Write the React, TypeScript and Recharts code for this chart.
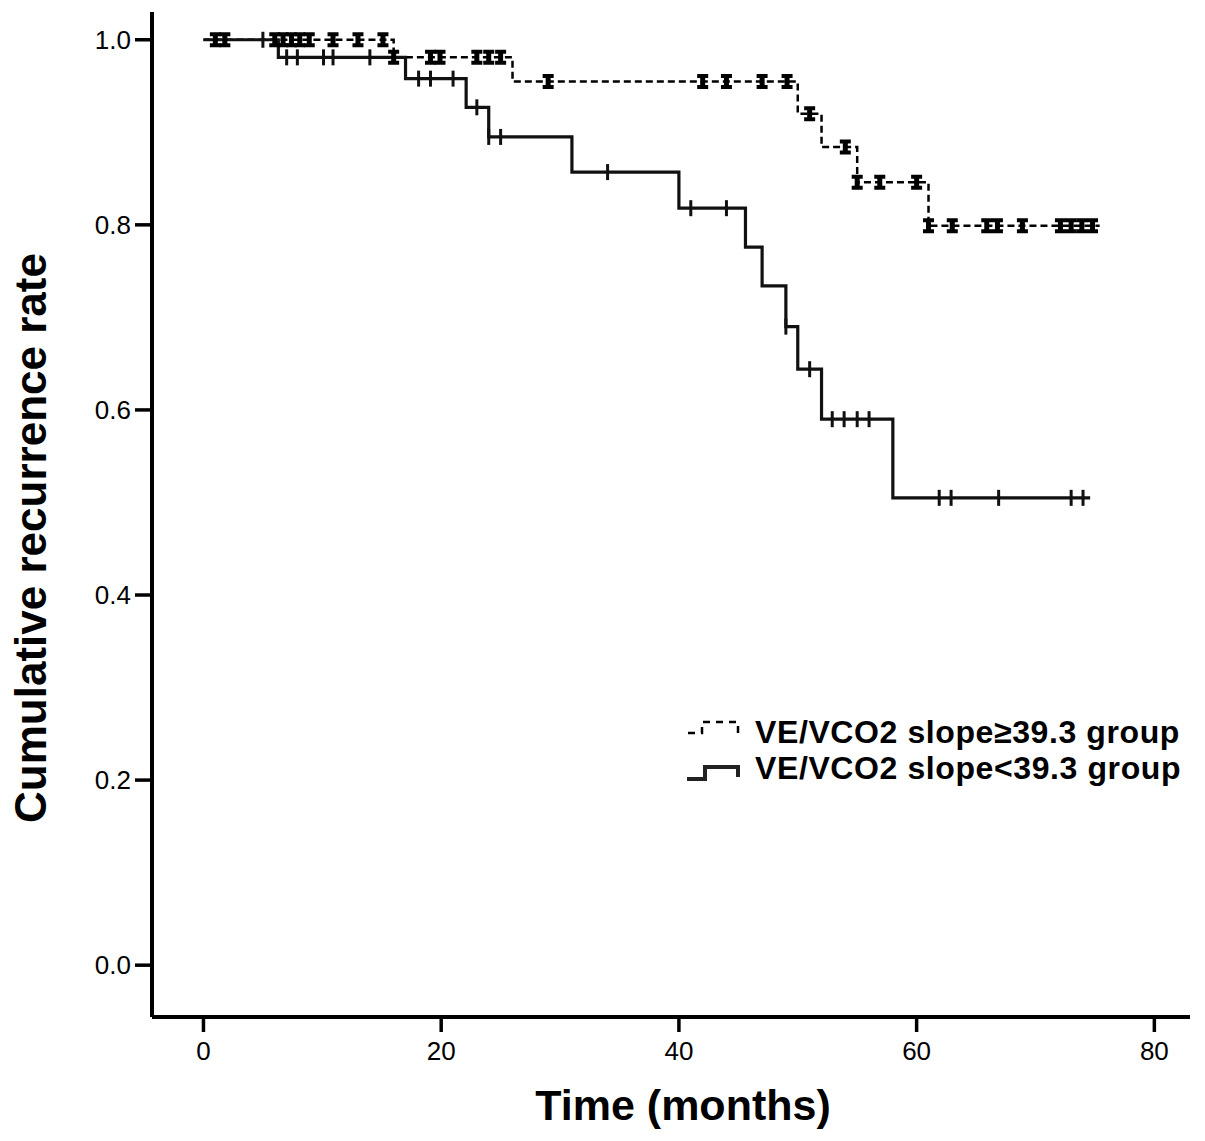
import { ComposedChart, Line, Scatter, XAxis, YAxis, Label, Legend } from 'recharts';

const FONT = '"Liberation Sans", Arial, Helvetica, sans-serif';

const xTicks = [0, 20, 40, 60, 80];
const yTicks = [0, 0.2, 0.4, 0.6, 0.8, 1.0];

// VE/VCO2 slope >= 39.3 group (dashed): step times (months) and cumulative rate
const highTimes = [0, 16, 26, 50, 52, 55, 61, 75.4];
const highRates = [1.0, 0.981, 0.955, 0.92, 0.884, 0.846, 0.799, 0.799];
const highCensored = [
  1.0, 1.8, 6.0, 6.7, 7.4, 8.1, 8.9, 10.9, 13.0, 15.1, 16.0, 19.1, 19.9, 23.0, 24.0, 25.0,
  29.0, 42.0, 44.0, 47.0, 49.1, 51.0, 54.0, 55.0, 56.9, 60.0, 61.0, 63.0, 65.9, 66.8, 68.9,
  72.1, 73.0, 73.9, 74.8,
];

// VE/VCO2 slope < 39.3 group (solid)
const lowTimes = [0, 6.3, 17, 22.1, 24, 31, 40, 45.6, 47, 49, 50, 52, 58, 74.6];
const lowRates = [1.0, 0.981, 0.958, 0.927, 0.895, 0.857, 0.818, 0.776, 0.734, 0.69, 0.644, 0.59, 0.505, 0.505];
const lowCensored = [
  5.0, 7.0, 7.9, 10.1, 10.9, 14.0, 18.1, 19.1, 21.0, 23.0, 24.0, 25.0, 34.0, 41.0, 44.0, 49.0,
  51.0, 52.9, 53.9, 55.0, 56.0, 61.9, 62.9, 66.9, 73.0, 74.0,
];

const groupNames = ['VE/VCO2 slope\u226539.3 group', 'VE/VCO2 slope<39.3 group'];

// rate of the step curve at time t
const levelAt = (times: number[], rates: number[], t: number) => {
  let r = rates[0];
  times.forEach((x, i) => {
    if (x <= t) r = rates[i];
  });
  return r;
};

const highLine = highTimes.map((t, i) => ({ t, s: highRates[i] }));
const lowLine = lowTimes.map((t, i) => ({ t, s: lowRates[i] }));
const highMarks = highCensored.map((t) => ({ t, s: levelAt(highTimes, highRates, t) }));
const lowMarks = lowCensored.map((t) => ({ t, s: levelAt(lowTimes, lowRates, t) }));

// censor symbol of the dashed group: small filled I-beam
const IBeam = (props: any) => {
  const { cx, cy } = props;
  return (
    <path
      d={`M${cx - 5.5},${cy - 7.5} h11 v4 h-3 v7 h3 v4 h-11 v-4 h3 v-7 h-3 z`}
      fill="#000"
    />
  );
};

// censor symbol of the solid group: vertical tick
const Tick = (props: any) => {
  const { cx, cy } = props;
  return <rect x={cx - 1.5} y={cy - 8} width={3} height={16} fill="#111" />;
};

const LegendBox = () => (
  <svg width={525} height={90} style={{ display: 'block' }}>
    <path d="M8,23 H22 V12 H58 V23" fill="none" stroke="#000" strokeWidth={2.5} strokeDasharray="7 6" />
    <path d="M7,69 H25 V57 H58 V67" fill="none" stroke="#222" strokeWidth={4} />
    {groupNames.map((name, i) => (
      <text
        key={name}
        x={75}
        y={33 + i * 36}
        fill="#000"
        style={{ fontFamily: FONT, fontWeight: 'bold', fontSize: 32, letterSpacing: 0.6 }}
      >
        {name}
      </text>
    ))}
  </svg>
);

export default function App() {
  return (
    <div style={{ position: 'absolute', left: 0, top: 0, background: '#fff' }}>
      <ComposedChart width={1205} height={1141} margin={{ top: 12, right: 15, left: 0, bottom: 0 }}>
        <XAxis
          dataKey="t"
          type="number"
          domain={[-4.33, 83.0]}
          ticks={xTicks}
          allowDataOverflow
          height={124}
          axisLine={{ stroke: '#000', strokeWidth: 4 }}
          tickLine={{ stroke: '#000', strokeWidth: 3.5 }}
          tickSize={15}
          tickMargin={10}
          tick={{ fill: '#000', fontSize: 26, fontFamily: FONT }}
        >
          <Label
            content={() => (
              <text
                x={683}
                y={1105}
                textAnchor="middle"
                dominantBaseline="central"
                fill="#000"
                style={{ fontFamily: FONT, fontWeight: 'bold', fontSize: 43 }}
              >
                Time (months)
              </text>
            )}
          />
        </XAxis>
        <YAxis
          dataKey="s"
          type="number"
          domain={[-0.056, 1.03]}
          ticks={yTicks}
          allowDataOverflow
          width={152}
          axisLine={{ stroke: '#000', strokeWidth: 4 }}
          tickLine={{ stroke: '#000', strokeWidth: 3.5 }}
          tickSize={17}
          tickMargin={4}
          tickFormatter={(v: number) => v.toFixed(1)}
          tick={{ fill: '#000', fontSize: 26, fontFamily: FONT }}
        >
          <Label
            content={() => (
              <text
                x={30}
                y={538}
                transform="rotate(-90, 30, 538)"
                textAnchor="middle"
                dominantBaseline="central"
                fill="#000"
                style={{ fontFamily: FONT, fontWeight: 'bold', fontSize: 44 }}
              >
                Cumulative recurrence rate
              </text>
            )}
          />
        </YAxis>
        <Legend
          layout="horizontal"
          verticalAlign="middle"
          align="center"
          wrapperStyle={{ left: 680, top: 710, width: 525 }}
          content={() => <LegendBox />}
        />
        <Line
          data={highLine}
          dataKey="s"
          type="stepAfter"
          stroke="#000"
          strokeWidth={2.5}
          strokeDasharray="7 4"
          dot={false}
          activeDot={false}
          isAnimationActive={false}
          legendType="none"
        />
        <Line
          data={lowLine}
          dataKey="s"
          type="stepAfter"
          stroke="#111"
          strokeWidth={3.2}
          dot={false}
          activeDot={false}
          isAnimationActive={false}
          legendType="none"
        />
        <Scatter data={highMarks} dataKey="s" shape={IBeam} isAnimationActive={false} legendType="none" />
        <Scatter data={lowMarks} dataKey="s" shape={Tick} isAnimationActive={false} legendType="none" />
      </ComposedChart>
    </div>
  );
}
